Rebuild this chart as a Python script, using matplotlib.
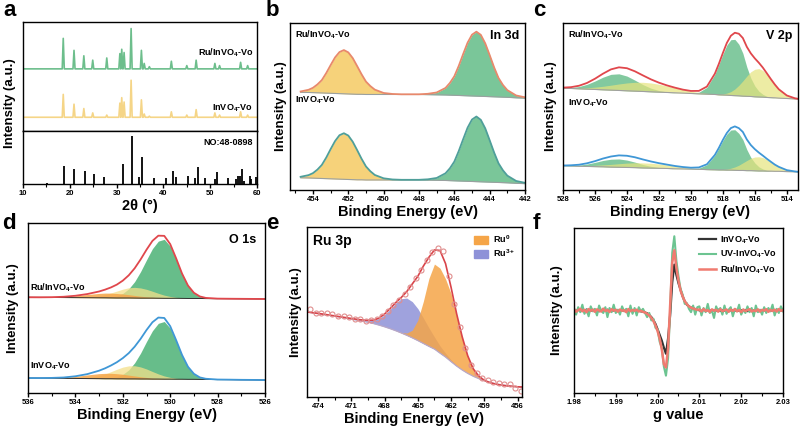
import matplotlib
matplotlib.use('Agg')
import matplotlib.pyplot as plt
from matplotlib.ticker import MultipleLocator, NullLocator, FormatStrFormatter
from matplotlib.patches import Patch
import numpy as np

# ------------------------------------------------------------------ #
# Data
# ------------------------------------------------------------------ #

# (a) XRD: peak positions / heights above each trace's baseline
xrd_pos = [18.6, 20.9, 23.0, 24.9, 27.9, 30.7, 31.1, 31.6, 33.1, 35.3, 35.9, 37.0,
           41.7, 45.0, 47.0, 51.0, 52.0, 56.5, 58.0]
xrd_ru_h = [28, 17, 12, 8, 10, 14, 18, 15, 37, 17, 5, 2, 7, 3, 8, 5, 3, 6, 3]
xrd_in_h = [21, 12, 8, 4, 2, 13, 18, 14, 34, 16, 3, 1, 5, 2, 7, 4, 2, 5, 2]
xrd_ru_base = 57
xrd_in_base = 12.6
ref_pos = [15.1, 18.7, 20.9, 23.2, 25.1, 27.3, 31.3, 33.2, 34.7, 35.5, 38.0, 40.5, 42.0,
           42.7, 45.3, 46.8, 47.3, 48.9, 51.0, 51.4, 53.8, 55.6, 56.0, 56.4, 56.8, 57.2,
           58.4, 58.7, 59.8]
ref_h = [2, 34, 28, 25, 19, 14, 37, 91, 14, 51, 11, 11, 24, 14, 15, 11, 33, 12, 10, 22,
         11, 10, 15, 16, 28, 6, 15, 10, 13]

# (b) In 3d
b_be = [454.7, 454.25, 454.0, 453.75, 453.5, 453.25, 453.0, 452.75, 452.5, 452.25,
        452.0, 451.75, 451.5, 451.25, 451.0, 450.75, 450.5, 450.0, 449.5, 449.0,
        448.0, 447.5, 447.0, 446.5, 446.25, 446.0, 445.75, 445.5, 445.25, 445.0,
        444.75, 444.5, 444.25, 444.0, 443.75, 443.5, 443.25, 443.0, 442.5, 442.0]
b_ru_fit = [59.0, 60.0, 61.2, 63.2, 65.8, 70.0, 74.8, 79.4, 82.6, 83.8,
            82.4, 79.0, 74.2, 69.3, 64.9, 62.2, 60.1, 58.1, 57.5, 57.3,
            57.3, 57.6, 58.4, 61.1, 64.1, 68.1, 74.3, 81.4, 88.2, 93.0,
            94.8, 92.9, 87.8, 80.8, 73.5, 67.1, 62.9, 59.8, 56.6, 55.5]
b_ru_base = [58.5, 58.4, 58.3, 58.2, 58.1, 58.0, 57.9, 57.8, 57.7, 57.6,
             57.5, 57.4, 57.3, 57.3, 57.2, 57.2, 57.2, 57.2, 57.2, 57.2,
             57.2, 57.1, 57.0, 56.9, 56.8, 56.7, 56.6, 56.5, 56.4, 56.3,
             56.2, 56.1, 56.0, 55.9, 55.8, 55.7, 55.6, 55.5, 55.2, 55.0]
b_in_fit = [7.9, 8.9, 10.1, 12.2, 15.0, 19.4, 24.5, 29.3, 32.8, 34.0,
            32.6, 28.9, 23.9, 18.7, 14.1, 11.2, 9.0, 7.0, 6.3, 6.1,
            6.1, 6.4, 7.2, 10.0, 13.0, 17.0, 23.3, 30.4, 37.3, 42.2,
            44.0, 42.0, 36.9, 29.8, 22.5, 16.0, 11.8, 8.6, 5.4, 4.3]
b_in_base = [7.3, 7.2, 7.1, 7.0, 6.9, 6.8, 6.7, 6.6, 6.5, 6.4,
             6.3, 6.2, 6.1, 6.1, 6.0, 6.0, 6.0, 6.0, 6.0, 6.0,
             6.0, 5.9, 5.8, 5.7, 5.6, 5.5, 5.4, 5.3, 5.2, 5.1,
             5.0, 4.9, 4.8, 4.7, 4.6, 4.5, 4.4, 4.3, 4.0, 3.8]

# (c) V 2p  (components are heights above the baseline)
c_be = [528, 527.5, 527, 526.5, 526, 525.5, 525, 524.5, 524, 523.5,
        523, 522.5, 522, 521.5, 521, 520.5, 520, 519.5, 519, 518.5,
        518.25, 518, 517.75, 517.5, 517.25, 517, 516.75, 516.5, 516.25, 516,
        515.75, 515.5, 515.25, 515, 514.75, 514.5, 514, 513.5, 513.3]
c_ru_base = [61.0, 60.8, 60.6, 60.4, 60.2, 60.0, 59.8, 59.6, 59.4, 59.2,
             59.0, 58.8, 58.6, 58.4, 58.2, 58.0, 57.8, 57.6, 57.4, 57.2,
             57.0, 56.9, 56.8, 56.6, 56.5, 56.4, 56.2, 56.1, 56.0, 55.8,
             55.7, 55.6, 55.4, 55.3, 55.2, 55.0, 54.8, 54.5, 54.4]
c_ru_g1 = [0.18, 0.54, 1.35, 2.86, 5.06, 7.55, 9.46, 9.97, 8.82, 6.57,
           4.11, 2.16, 0.96, 0.35, 0.11, 0, 0, 0, 0, 0,
           0, 0, 0, 0, 0, 0, 0, 0, 0, 0,
           0, 0, 0, 0, 0, 0, 0, 0, 0]
c_ru_y1 = [0.12, 0.24, 0.47, 0.83, 1.37, 2.10, 2.97, 3.89, 4.71, 5.29,
           5.5, 5.29, 4.71, 3.89, 2.97, 2.10, 1.37, 0.83, 0.47, 0.24,
           0.17, 0.12, 0.08, 0.06, 0, 0, 0, 0, 0, 0,
           0, 0, 0, 0, 0, 0, 0, 0, 0]
c_ru_g2 = [0, 0, 0, 0, 0, 0, 0, 0, 0, 0,
           0, 0, 0, 0, 0, 0, 0.14, 0.92, 4.05, 12.1,
           18.1, 24.4, 30.0, 33.4, 33.7, 30.9, 25.7, 17.5, 11.0, 6.5,
           3.5, 1.7, 0.7, 0.25, 0.08, 0, 0, 0, 0]
c_ru_y2 = [0, 0, 0, 0, 0, 0, 0, 0, 0, 0,
           0, 0, 0, 0, 0, 0, 0, 0, 0, 0.11,
           0.27, 0.60, 1.22, 2.30, 3.97, 6.27, 9.1, 12.1, 14.8, 16.5,
           17.0, 16.0, 13.8, 10.9, 7.9, 5.3, 1.8, 0.44, 0.22]
c_in_base = [14.5, 14.4, 14.2, 14.1, 14.0, 13.9, 13.7, 13.6, 13.5, 13.4,
             13.2, 13.1, 13.0, 12.9, 12.7, 12.6, 12.5, 12.4, 12.2, 12.1,
             12.0, 12.0, 11.9, 11.9, 11.8, 11.7, 11.7, 11.6, 11.6, 11.5,
             11.4, 11.4, 11.3, 11.3, 11.2, 11.2, 11.0, 10.9, 10.8]
c_in_g1 = [0.09, 0.27, 0.68, 1.43, 2.53, 3.78, 4.73, 4.99, 4.41, 3.29,
           2.06, 1.08, 0.48, 0.18, 0.06, 0, 0, 0, 0, 0,
           0, 0, 0, 0, 0, 0, 0, 0, 0, 0,
           0, 0, 0, 0, 0, 0, 0, 0, 0]
c_in_y1 = [0.07, 0.13, 0.26, 0.46, 0.75, 1.16, 1.63, 2.14, 2.59, 2.91,
           3.03, 2.91, 2.59, 2.14, 1.63, 1.16, 0.75, 0.46, 0.26, 0.13,
           0.09, 0.07, 0.04, 0.03, 0, 0, 0, 0, 0, 0,
           0, 0, 0, 0, 0, 0, 0, 0, 0]
c_in_g2 = [0, 0, 0, 0, 0, 0, 0, 0, 0, 0,
           0, 0, 0, 0, 0, 0, 0.10, 0.66, 2.92, 8.7,
           13.0, 17.6, 21.6, 24.0, 24.3, 22.2, 18.5, 12.6, 7.9, 4.7,
           2.5, 1.2, 0.5, 0.18, 0.06, 0, 0, 0, 0]
c_in_y2 = [0, 0, 0, 0, 0, 0, 0, 0, 0, 0,
           0, 0, 0, 0, 0, 0, 0, 0, 0, 0.06,
           0.14, 0.30, 0.61, 1.15, 1.99, 3.14, 4.55, 6.05, 7.4, 8.25,
           8.5, 8.0, 6.9, 5.45, 3.95, 2.65, 0.9, 0.22, 0.11]

# (d) O 1s
d_be = [536, 535.5, 535, 534.5, 534, 533.5, 533, 532.75, 532.5, 532.25,
        532, 531.75, 531.5, 531.25, 531, 530.75, 530.5, 530.25, 530, 529.75,
        529.5, 529.25, 529, 528.75, 528.5, 528, 527.5, 527, 526.5, 526]
d_ru_base = [56.3, 56.25, 56.2, 56.15, 56.1, 56.05, 56.0, 56.0, 55.95, 55.9,
             55.9, 55.9, 55.85, 55.8, 55.8, 55.8, 55.75, 55.7, 55.7, 55.7,
             55.65, 55.6, 55.6, 55.6, 55.55, 55.5, 55.45, 55.4, 55.35, 55.3]
d_ru_green = [0, 0, 0, 0, 0, 0, 0.05, 0.17, 0.47, 1.18,
              2.67, 5.37, 9.67, 15.6, 22.5, 29.1, 33.6, 34.7, 30.7, 22.9,
              14.3, 7.5, 3.3, 1.2, 0.39, 0.02, 0, 0, 0, 0]
d_ru_yellow = [0, 0, 0, 0, 0.05, 0.28, 1.09, 1.86, 2.89, 4.06,
               5.19, 6.0, 6.3, 6.0, 5.19, 4.06, 2.89, 1.86, 1.09, 0.58,
               0.28, 0.12, 0.05, 0, 0, 0, 0, 0, 0, 0]
d_ru_orange = [0.01, 0.04, 0.16, 0.46, 1.05, 1.87, 2.58, 2.77, 2.79, 2.63,
               2.34, 1.95, 1.53, 1.13, 0.78, 0.51, 0.31, 0.18, 0.10, 0.05,
               0.02, 0, 0, 0, 0, 0, 0, 0, 0, 0]
d_in_base = [8.8, 8.75, 8.7, 8.6, 8.55, 8.5, 8.45, 8.4, 8.4, 8.35,
             8.35, 8.3, 8.3, 8.25, 8.25, 8.2, 8.2, 8.15, 8.15, 8.1,
             8.1, 8.05, 8.05, 8.0, 8.0, 7.9, 7.85, 7.75, 7.7, 7.6]
d_in_green = [0, 0, 0, 0, 0, 0, 0.05, 0.17, 0.46, 1.15,
              2.61, 5.25, 9.45, 15.2, 22.0, 28.4, 32.8, 33.9, 30.0, 22.4,
              14.0, 7.3, 3.2, 1.17, 0.38, 0.02, 0, 0, 0, 0]
d_in_yellow = [0, 0, 0, 0, 0.09, 0.47, 1.69, 2.78, 4.14, 5.61,
               6.88, 7.67, 7.74, 7.09, 5.89, 4.44, 3.03, 1.88, 1.05, 0.54,
               0.25, 0.10, 0.04, 0, 0, 0, 0, 0, 0, 0]
d_in_orange = [0.01, 0.05, 0.18, 0.52, 1.2, 2.13, 2.94, 3.16, 3.18, 3.0,
               2.67, 2.22, 1.74, 1.29, 0.89, 0.58, 0.35, 0.21, 0.11, 0.06,
               0.02, 0, 0, 0, 0, 0, 0, 0, 0, 0]

# (e) Ru 3p
e_be = [475, 474.5, 474, 473.5, 473, 472.5, 472, 471.5, 471, 470.5,
        470, 469.5, 469, 468.5, 468, 467.5, 467, 466.5, 466, 465.5,
        465, 464.5, 464, 463.5, 463, 462.5, 462, 461.5, 461, 460.5,
        460, 459.5, 459, 458.5, 458, 457.5, 457, 456.5, 456, 455.6]
e_base = [50.0, 49.5, 49.0, 48.5, 48.0, 47.5, 47.0, 46.4, 45.8, 45.2,
          44.6, 44.0, 43.2, 42.3, 41.3, 40.2, 39.0, 37.7, 36.3, 34.8,
          33.2, 31.5, 29.8, 28.2, 25.8, 23.5, 20.8, 18.2, 15.9, 13.9,
          12.2, 10.8, 9.6, 8.6, 7.8, 7.2, 6.7, 6.3, 6.0, 5.8]
e_fit = [50.0, 49.6, 49.2, 48.7, 48.2, 47.7, 47.2, 46.7, 46.2, 45.7,
         45.3, 45.1, 45.2, 46.4, 48.8, 52.0, 55.5, 58.5, 62.0, 66.5,
         71.0, 77.0, 82.2, 86.5, 86.2, 78.5, 64.5, 49.0, 35.5, 24.3,
         16.6, 12.3, 9.8, 8.5, 7.6, 7.0, 6.6, 6.3, 6.0, 5.9]
e_ru3 = [0, 0, 0, 0, 0, 0, 0, 0, 0, 0.1,
         0.3, 0.8, 1.9, 3.9, 7.1, 11.4, 16.2, 20.1, 21.9, 21.3,
         18.8, 15.0, 10.9, 7.1, 4.3, 2.3, 1.1, 0.5, 0.2, 0,
         0, 0, 0, 0, 0, 0, 0, 0, 0, 0]
e_ru0 = [0, 0, 0, 0, 0, 0, 0, 0, 0, 0,
         0, 0, 0, 0, 0, 0, 0.05, 0.3, 1.3, 4.5,
         12.0, 24.8, 39.9, 50.0, 50.0, 46.0, 40.0, 29.5, 19.0, 10.0,
         4.2, 1.4, 0.4, 0.1, 0, 0, 0, 0, 0, 0]
e_pts_be = [474.7, 474.2, 473.7, 473.2, 472.7, 472.2, 471.7, 471.2, 470.7, 470.2,
            469.7, 469.2, 468.7, 468.2, 467.7, 467.2, 466.7, 466.2, 465.7, 465.2,
            464.7, 464.2, 463.7, 463.2, 462.7, 462.2, 461.7, 461.2, 460.7, 460.2,
            459.7, 459.2, 458.7, 458.2, 457.7, 457.2, 456.7, 456.2, 455.7]
e_pts = [51.8, 49.6, 49.4, 49.6, 49.0, 47.6, 47.6, 47.2, 46.0, 45.8,
         45.0, 45.4, 45.8, 47.8, 50.5, 54.0, 57.2, 60.8, 64.5, 70.0,
         74.5, 80.5, 85.0, 87.5, 86.0, 71.0, 55.0, 41.0, 29.0, 19.0,
         14.0, 11.0, 10.0, 8.8, 8.4, 7.8, 7.6, 5.2, 3.5]

# (f) EPR, g from 1.98 to 2.03 in 0.0005 steps
f_black = [50.3, 49.6, 50.5, 49.8, 50.1, 49.4, 50.6, 50.0, 49.7, 50.4,
           49.9, 50.2, 49.5, 50.3, 50.0, 49.7, 50.5, 49.8, 50.1, 49.9,
           50.4, 49.6, 50.2, 50.0, 49.7, 50.3, 49.9, 50.1, 49.6, 50.2,
           49.8, 50.0, 49.5, 49.3,
           48.8, 48.3, 47.3, 46.0, 44.2, 41.8, 38.6, 35.2, 31.8, 27.5,
           23.8, 33.0, 47.0, 67.0, 77.8, 71.5, 66.5, 62.5, 58.5, 55.5,
           53.5, 52.5, 51.8, 51.3, 50.9, 50.5,
           50.1, 49.7, 50.4, 49.9, 50.2, 49.6, 50.3, 50.0, 49.8, 50.5,
           49.7, 50.1, 49.9, 50.3, 49.6, 50.2, 50.0, 49.8, 50.4, 49.7,
           50.1, 49.9, 50.3, 49.6, 50.2, 49.8, 50.0, 50.4, 49.7, 50.1,
           49.9, 50.2, 49.6, 50.3, 49.8, 50.0, 50.2, 49.7, 50.1, 49.9,
           50.2]
f_green = [51.5, 47.5, 52.0, 49.0, 53.5, 48.0, 50.5, 46.5, 52.5, 49.5,
           51.0, 47.0, 53.0, 50.0, 48.5, 52.0, 46.0, 51.5, 49.0, 53.5,
           48.5, 50.5, 47.5, 52.5, 49.5, 51.0, 46.5, 53.0, 48.0, 51.5,
           47.0, 52.0, 49.5, 51.0,
           48.5, 46.0, 48.5, 44.0, 45.0, 39.5, 38.5, 31.0, 27.5, 16.0,
           10.5, 21.0, 50.0, 85.0, 95.0, 80.0, 70.5, 63.0, 59.5, 54.0,
           54.5, 51.0, 49.0, 53.0, 47.5, 52.0,
           52.5, 47.0, 51.5, 49.0, 54.0, 48.5, 50.0, 45.5, 52.5, 49.5,
           51.5, 47.5, 53.0, 48.0, 50.5, 52.0, 46.5, 51.0, 49.5, 53.5,
           47.5, 50.5, 48.5, 52.5, 49.0, 51.5, 46.5, 53.0, 49.0, 50.5,
           47.5, 52.0, 48.5, 51.5, 49.5, 53.5, 47.0, 51.0, 48.5, 52.5,
           49.5]
f_red = [50.8, 49.3, 50.2, 51.0, 49.5, 50.4, 49.0, 50.9, 49.8, 50.5,
         49.2, 50.7, 50.0, 49.4, 51.1, 49.7, 50.3, 49.1, 50.8, 49.9,
         50.4, 49.3, 50.6, 49.8, 50.2, 49.0, 50.9, 49.6, 50.3, 49.8,
         50.5, 49.4, 49.8, 49.2,
         48.8, 48.0, 47.0, 45.6, 43.6, 41.0, 37.5, 33.0, 26.5, 17.5,
         15.5, 27.0, 53.0, 79.0, 86.5, 75.5, 68.0, 62.0, 58.5, 55.6,
         53.8, 52.5, 51.7, 51.2, 50.8, 50.4,
         50.6, 49.4, 50.9, 49.7, 50.2, 49.1, 50.7, 49.9, 50.4, 49.3,
         50.8, 49.6, 50.1, 50.6, 49.2, 50.5, 49.8, 50.9, 49.5, 50.3,
         49.0, 50.6, 49.7, 50.2, 50.8, 49.4, 50.1, 49.6, 50.7, 49.3,
         50.4, 49.9, 50.8, 49.2, 50.3, 49.7, 50.5, 49.4, 50.9, 49.8,
         50.2]
f_g = np.linspace(1.98, 2.03, len(f_black))

# ------------------------------------------------------------------ #
# Style
# ------------------------------------------------------------------ #
plt.rcParams['font.family'] = ['Liberation Sans', 'DejaVu Sans']
plt.rcParams['font.weight'] = 'bold'
plt.rcParams['axes.labelweight'] = 'bold'
plt.rcParams['mathtext.fontset'] = 'custom'
plt.rcParams['mathtext.rm'] = 'Liberation Sans:bold'
plt.rcParams['mathtext.bf'] = 'Liberation Sans:bold'
plt.rcParams['mathtext.it'] = 'Liberation Sans:bold'
plt.rcParams['mathtext.default'] = 'rm'
plt.rcParams['axes.linewidth'] = 1.0

GREEN = '#6cc08e'
YELLOW = '#f6d27a'
LIME = '#e6e47e'
ORANGE = '#f5a548'
PURPLE = '#8e92d8'
RED = '#e0474c'
BLUE = '#3f97d6'

W, H = 800, 434
fig = plt.figure(figsize=(8, 4.34), dpi=100)


def add_ax(left, top, right, bottom):
    return fig.add_axes([left / W, 1 - bottom / H, (right - left) / W, (bottom - top) / H])


def style(ax, major, minor, xlabel=None):
    ax.xaxis.set_major_locator(MultipleLocator(major))
    ax.xaxis.set_minor_locator(MultipleLocator(minor))
    ax.yaxis.set_major_locator(NullLocator())
    ax.tick_params(axis='x', which='major', direction='out', length=3, width=1,
                   labelsize=5.5, pad=1.5)
    ax.tick_params(axis='x', which='minor', direction='out', length=1.8, width=0.8)
    for lab in ax.get_xticklabels():
        lab.set_fontweight('bold')
    if xlabel:
        ax.set_xlabel(xlabel, fontsize=10.5, fontweight='bold', labelpad=1)


def xrd_line(pos, heights, base, w=0.22):
    xs, ys = [10], [base]
    for p, h in zip(pos, heights):
        xs += [p - w, p, p + w]
        ys += [base, base + h, base]
    xs.append(60)
    ys.append(base)
    return xs, ys


# ------------------------------------------------------------------ #
# (a) XRD
# ------------------------------------------------------------------ #
ax_a1 = add_ax(23, 22, 257, 131)
ax_a2 = add_ax(23, 131, 257, 184)
x, y = xrd_line(xrd_pos, xrd_ru_h, xrd_ru_base)
ax_a1.plot(x, y, color='#6dbe8c', lw=1.2)
x, y = xrd_line(xrd_pos, xrd_in_h, xrd_in_base)
ax_a1.plot(x, y, color='#f5d587', lw=1.2)
ax_a1.set_xlim(10, 60)
ax_a1.set_ylim(0, 100)
ax_a1.set_xticks([])
ax_a1.set_yticks([])
ax_a1.text(0.983, 0.72, 'Ru/InVO$_4$-Vo', transform=ax_a1.transAxes, ha='right',
           va='center', fontsize=6.5)
ax_a1.text(0.983, 0.21, 'InVO$_4$-Vo', transform=ax_a1.transAxes, ha='right',
           va='center', fontsize=6.5)
ax_a2.vlines(ref_pos, 0, ref_h, color='black', lw=1.3)
ax_a2.set_xlim(10, 60)
ax_a2.set_ylim(0, 100)
style(ax_a2, 10, 5, '2θ (°)')
ax_a2.text(0.983, 0.79, 'NO:48-0898', transform=ax_a2.transAxes, ha='right',
           va='center', fontsize=6.5)

# ------------------------------------------------------------------ #
# (b) In 3d
# ------------------------------------------------------------------ #
ax_b = add_ax(290, 23, 525, 190)
be = np.array(b_be)
for fit, base, lc in [(b_ru_fit, b_ru_base, '#e8896c'), (b_in_fit, b_in_base, '#4f9f9a')]:
    ax_b.fill_between(be, base, fit, where=be >= 448, color=YELLOW, lw=0)
    ax_b.fill_between(be, base, fit, where=be <= 448, color=GREEN, alpha=0.9, lw=0)
    ax_b.plot(be, base, color='#9aa0a0', lw=0.8)
    ax_b.plot(be, fit, color=lc, lw=1.3)
ax_b.set_xlim(455.3, 442)
ax_b.set_ylim(0, 100)
style(ax_b, 2, 1, 'Binding Energy (eV)')
ax_b.text(0.02, 0.93, 'Ru/InVO$_4$-Vo', transform=ax_b.transAxes, fontsize=6.5, va='center')
ax_b.text(0.02, 0.54, 'InVO$_4$-Vo', transform=ax_b.transAxes, fontsize=6.5, va='center')
ax_b.text(0.975, 0.925, 'In 3d', transform=ax_b.transAxes, fontsize=9, ha='right', va='center')

# ------------------------------------------------------------------ #
# (c) V 2p
# ------------------------------------------------------------------ #
ax_c = add_ax(563, 23, 798, 190)
be = np.array(c_be)
for base, g1, y1, g2, y2, lc in [
        (c_ru_base, c_ru_g1, c_ru_y1, c_ru_g2, c_ru_y2, RED),
        (c_in_base, c_in_g1, c_in_y1, c_in_g2, c_in_y2, BLUE)]:
    base = np.array(base)
    for comp, col, al in [(g1, GREEN, 0.85), (g2, GREEN, 0.85), (y1, LIME, 0.7), (y2, LIME, 0.7)]:
        ax_c.fill_between(be, base, base + np.array(comp), color=col, alpha=al, lw=0)
    ax_c.plot(be, base, color='#a0a0a0', lw=0.8)
    env = base + np.array(g1) + np.array(y1) + np.array(g2) + np.array(y2)
    ax_c.plot(be, env, color=lc, lw=1.3)
ax_c.set_xlim(528, 513.3)
ax_c.set_ylim(0, 100)
style(ax_c, 2, 1, 'Binding Energy (eV)')
ax_c.text(0.02, 0.93, 'Ru/InVO$_4$-Vo', transform=ax_c.transAxes, fontsize=6.5, va='center')
ax_c.text(0.02, 0.52, 'InVO$_4$-Vo', transform=ax_c.transAxes, fontsize=6.5, va='center')
ax_c.text(0.975, 0.925, 'V 2p', transform=ax_c.transAxes, fontsize=9, ha='right', va='center')

# ------------------------------------------------------------------ #
# (d) O 1s
# ------------------------------------------------------------------ #
ax_d = add_ax(28, 223, 265, 393)
be = np.array(d_be)
for base, gr, ye, orn, lc in [
        (d_ru_base, d_ru_green, d_ru_yellow, d_ru_orange, RED),
        (d_in_base, d_in_green, d_in_yellow, d_in_orange, BLUE)]:
    base = np.array(base)
    ax_d.fill_between(be, base, base + np.array(gr), color='#5fba84', alpha=0.95, lw=0)
    ax_d.fill_between(be, base, base + np.array(ye), color='#f3e08a', alpha=0.75, lw=0)
    ax_d.fill_between(be, base, base + np.array(orn), color=ORANGE, alpha=0.85, lw=0)
    ax_d.plot(be, base, color='#333333', lw=0.7)
    env = base + np.array(gr) + np.array(ye) + np.array(orn)
    ax_d.plot(be, env, color=lc, lw=1.3)
ax_d.set_xlim(536, 526)
ax_d.set_ylim(0, 100)
style(ax_d, 2, 1, 'Binding Energy (eV)')
ax_d.text(0.01, 0.62, 'Ru/InVO$_4$-Vo', transform=ax_d.transAxes, fontsize=6.5, va='center')
ax_d.text(0.01, 0.16, 'InVO$_4$-Vo', transform=ax_d.transAxes, fontsize=6.5, va='center')
ax_d.text(0.965, 0.9, 'O 1s', transform=ax_d.transAxes, fontsize=9, ha='right', va='center')

# ------------------------------------------------------------------ #
# (e) Ru 3p
# ------------------------------------------------------------------ #
ax_e = add_ax(307, 227, 522, 397)
be = np.array(e_be)
base = np.array(e_base)
ax_e.fill_between(be, base, base + np.array(e_ru3), color=PURPLE, alpha=0.85, lw=0)
ax_e.fill_between(be, base, base + np.array(e_ru0), color=ORANGE, alpha=0.85, lw=0)
ax_e.plot(be, base, color='#b8a8c8', lw=0.9)
ax_e.plot(be, e_fit, color='#d9444a', lw=1.2)
ax_e.plot(e_pts_be, e_pts, 'o', mfc='none', mec='#e08e8e', ms=3.6, mew=0.8)
ax_e.set_xlim(475, 455.6)
ax_e.set_ylim(0, 100)
style(ax_e, 3, 1.5, 'Binding Energy (eV)')
ax_e.text(0.03, 0.92, 'Ru 3p', transform=ax_e.transAxes, fontsize=10, va='center')
ax_e.legend(handles=[Patch(color=ORANGE, label='Ru$^0$'), Patch(color=PURPLE, label='Ru$^{3+}$')],
            loc='upper right', frameon=False, fontsize=6.5, handlelength=1.6,
            handleheight=1.0, borderaxespad=0.3, labelspacing=0.3, handletextpad=0.6)

# ------------------------------------------------------------------ #
# (f) EPR
# ------------------------------------------------------------------ #
ax_f = add_ax(574, 228, 783, 393)
ax_f.plot(f_g, f_black, color='#333333', lw=1.6, label='InVO$_4$-Vo')
ax_f.plot(f_g, f_green, color='#6cc491', lw=1.5, label='UV-InVO$_4$-Vo')
ax_f.plot(f_g, f_red, color='#f07b70', lw=1.8, label='Ru/InVO$_4$-Vo')
ax_f.set_xlim(1.98, 2.03)
ax_f.set_ylim(0, 100)
style(ax_f, 0.01, 0.005, 'g value')
ax_f.xaxis.set_major_formatter(FormatStrFormatter('%.2f'))
ax_f.legend(loc='upper right', frameon=False, fontsize=6.5, handlelength=1.8,
            borderaxespad=0.3, labelspacing=0.35, handletextpad=0.5)

# ------------------------------------------------------------------ #
# Y labels and panel letters
# ------------------------------------------------------------------ #
for xpx, ypx in [(10, 103), (281, 106), (551, 106), (13, 308), (296, 312), (557, 310)]:
    fig.text(xpx / W, 1 - ypx / H, 'Intensity (a.u.)', rotation=90, ha='center',
             va='center', fontsize=9.5, fontweight='bold')
for lab, xpx, ypx in [('a', 3, 16), ('b', 266, 16), ('c', 533, 16),
                      ('d', 2, 229), ('e', 266, 229), ('f', 533, 229)]:
    fig.text(xpx / W, 1 - ypx / H, lab, ha='left', va='baseline', fontsize=16,
             fontweight='bold')

fig.savefig('out.png', dpi=100)
